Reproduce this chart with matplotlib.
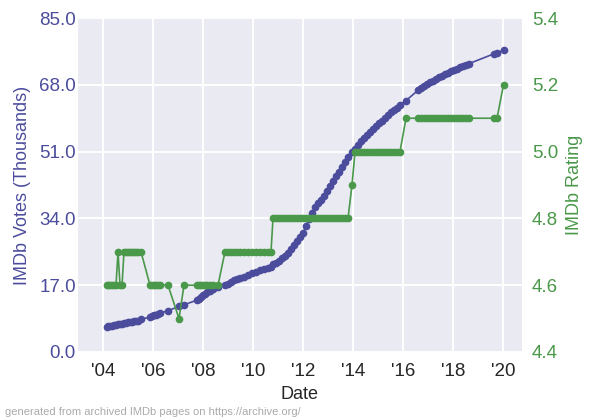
import matplotlib
matplotlib.use("Agg")
import matplotlib.pyplot as plt
import seaborn as sns
from matplotlib.ticker import FixedLocator, FuncFormatter

# observation dates as fractional years
dates = [
    2004.16, 2004.20, 2004.28, 2004.36, 2004.44, 2004.52, 2004.60, 2004.68, 2004.76, 2004.84,
    2004.92, 2005.00, 2005.08, 2005.16, 2005.24, 2005.32, 2005.40, 2005.52,
    2005.88, 2005.96, 2006.04, 2006.12, 2006.20, 2006.28, 2006.60, 2007.04, 2007.24,
    2007.76, 2007.84, 2007.92, 2008.00, 2008.08, 2008.16, 2008.28, 2008.40, 2008.60,
    2008.88, 2009.00, 2009.12, 2009.24, 2009.36, 2009.48, 2009.64, 2009.80, 2009.96, 2010.12,
    2010.28, 2010.44, 2010.60, 2010.72,
    2010.80, 2010.92, 2011.04, 2011.16, 2011.28, 2011.40, 2011.52, 2011.64, 2011.76, 2011.88,
    2012.00, 2012.12, 2012.24, 2012.36, 2012.48, 2012.60, 2012.72, 2012.84, 2012.96, 2013.08,
    2013.20, 2013.32, 2013.44, 2013.56, 2013.68, 2013.80,
    2013.96,
    2014.08, 2014.20, 2014.32, 2014.44, 2014.56, 2014.68, 2014.80, 2014.92, 2015.04, 2015.16,
    2015.28, 2015.40, 2015.52, 2015.64, 2015.76, 2015.88,
    2016.12,
    2016.60, 2016.72, 2016.84, 2016.96, 2017.08, 2017.20, 2017.32, 2017.44, 2017.56, 2017.68,
    2017.80, 2017.92, 2018.04, 2018.16, 2018.28, 2018.40, 2018.52, 2018.64,
    2019.64, 2019.76,
    2020.02,
]

votes = [
    6.4, 6.5, 6.6, 6.7, 6.8, 6.9, 7.0, 7.1, 7.2, 7.3,
    7.4, 7.5, 7.6, 7.7, 7.8, 7.9, 8.0, 8.3,
    8.9, 9.1, 9.3, 9.5, 9.7, 9.9, 10.5, 11.6, 12.0,
    13.2, 13.6, 14.0, 14.4, 14.8, 15.2, 15.6, 16.0, 16.6,
    17.0, 17.4, 17.8, 18.2, 18.5, 18.8, 19.2, 19.6, 20.0, 20.4,
    20.8, 21.1, 21.4, 21.7,
    22.3, 22.7, 23.2, 23.8, 24.5, 25.3, 26.2, 27.2, 28.2, 29.2,
    30.3, 32.0, 33.8, 35.5, 36.8, 37.8, 38.8, 39.8, 41.0, 42.3,
    43.6, 44.8, 45.8, 47.0, 48.3, 49.6,
    50.8,
    51.6, 52.6, 53.6, 54.4, 55.2, 56.0, 56.8, 57.5, 58.2, 58.9,
    59.6, 60.3, 61.0, 61.6, 62.2, 62.8,
    64.0,
    66.6, 67.2, 67.7, 68.2, 68.7, 69.1, 69.5, 69.9, 70.3, 70.7,
    71.1, 71.5, 71.8, 72.1, 72.5, 72.8, 73.1, 73.4,
    75.9, 76.2,
    76.8,
]

ratings = [
    4.6, 4.6, 4.6, 4.6, 4.6, 4.6, 4.7, 4.6, 4.6, 4.7,
    4.7, 4.7, 4.7, 4.7, 4.7, 4.7, 4.7, 4.7,
    4.6, 4.6, 4.6, 4.6, 4.6, 4.6, 4.6, 4.5, 4.6,
    4.6, 4.6, 4.6, 4.6, 4.6, 4.6, 4.6, 4.6, 4.6,
    4.7, 4.7, 4.7, 4.7, 4.7, 4.7, 4.7, 4.7, 4.7, 4.7,
    4.7, 4.7, 4.7, 4.7,
    4.8, 4.8, 4.8, 4.8, 4.8, 4.8, 4.8, 4.8, 4.8, 4.8,
    4.8, 4.8, 4.8, 4.8, 4.8, 4.8, 4.8, 4.8, 4.8, 4.8,
    4.8, 4.8, 4.8, 4.8, 4.8, 4.8,
    4.9,
    5.0, 5.0, 5.0, 5.0, 5.0, 5.0, 5.0, 5.0, 5.0, 5.0,
    5.0, 5.0, 5.0, 5.0, 5.0, 5.0,
    5.1,
    5.1, 5.1, 5.1, 5.1, 5.1, 5.1, 5.1, 5.1, 5.1, 5.1,
    5.1, 5.1, 5.1, 5.1, 5.1, 5.1, 5.1, 5.1,
    5.1, 5.1,
    5.2,
]

year_ticks = [2004, 2006, 2008, 2010, 2012, 2014, 2016, 2018, 2020]
vote_ticks = [0.0, 17.0, 34.0, 51.0, 68.0, 85.0]
rating_ticks = [4.4, 4.6, 4.8, 5.0, 5.2, 5.4]

BLUE = "#4b4c9c"
GREEN = "#4a984a"

sns.set_style("darkgrid")
plt.rcParams["font.family"] = ["Liberation Sans", "DejaVu Sans"]

fig = plt.figure(figsize=(6, 4.2), dpi=100)
ax = fig.add_axes([0.13, 0.162, 0.74, 0.795])
ax2 = ax.twinx()

ax.plot(dates, votes, "-o", color=BLUE, ms=4.5, lw=1.2)
ax2.plot(dates, ratings, "-o", color=GREEN, ms=4.5, lw=1.2)

ax.set_xlim(2003.0, 2020.76)
ax.set_ylim(0, 85)
ax2.set_ylim(4.4, 5.4)

ax.xaxis.set_major_locator(FixedLocator(year_ticks))
ax.xaxis.set_major_formatter(FuncFormatter(lambda v, p: "'%02d" % (int(round(v)) % 100)))
ax.yaxis.set_major_locator(FixedLocator(vote_ticks))
ax.yaxis.set_major_formatter(FuncFormatter(lambda v, p: "%.1f" % v))
ax2.yaxis.set_major_locator(FixedLocator(rating_ticks))
ax2.yaxis.set_major_formatter(FuncFormatter(lambda v, p: "%.1f" % v))
ax2.grid(False)
ax.grid(True, color="white", lw=1.4)

ax.tick_params(axis="x", labelsize=13.5, colors="#262626", length=0, pad=8)
ax.tick_params(axis="y", labelsize=13.5, labelcolor=BLUE, length=0, pad=1.5)
ax2.tick_params(axis="y", labelsize=13.5, labelcolor=GREEN, length=0, pad=7)

ax.set_xlabel("Date", fontsize=13, color="#262626", labelpad=4)
ax.set_ylabel("IMDb Votes (Thousands)", fontsize=13, color=BLUE, labelpad=6)
ax2.set_ylabel("IMDb Rating", fontsize=13, color=GREEN, labelpad=6)

for sp in ax.spines.values():
    sp.set_visible(False)
for sp in ax2.spines.values():
    sp.set_visible(False)

fig.text(0.008, 0.012, "generated from archived IMDb pages on https://archive.org/",
         fontsize=8, color="#aaaaaa")

fig.savefig("out.png", dpi=100)
